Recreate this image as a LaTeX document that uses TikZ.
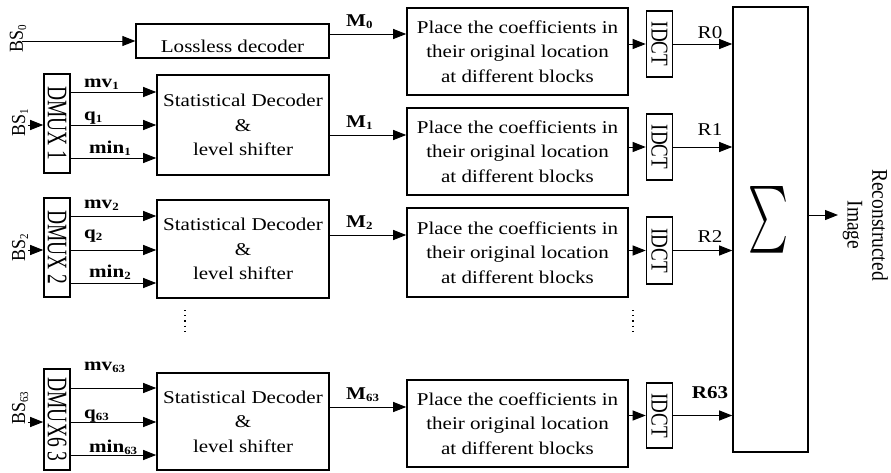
\documentclass[tikz,border=0pt]{standalone}
\usepackage{fontspec}
\usepackage{graphicx}
\setmainfont{Liberation Serif}[FakeStretch=1.17]
\newfontfamily\rotfont{Liberation Serif}
\usetikzlibrary{arrows.meta}

% lowered small index, e.g. BS_1, mv_1
\newcommand\lowsub[1]{\raisebox{-0.35ex}{\fontsize{11}{11}\selectfont #1}}
% upright-running text for vertical labels: size, widening factor, text
\newcommand\vtext[3]{{\rotfont\fontsize{#1}{#1}\selectfont\scalebox{1}[#2]{#3}}}

\tikzset{
  conn/.style={line width=1pt},
  arr/.style={conn, -{Triangle[length=13pt,width=10pt]}},
  box/.style={draw, line width=1.6pt, inner sep=0pt},
  body/.style={font=\fontsize{18}{24.5}\selectfont, align=center},
  lbl/.style={anchor=base west, inner sep=0pt, font=\fontsize{18}{18}\selectfont\bfseries},
  rlbl/.style={anchor=base, inner sep=0pt, font=\fontsize{18}{18}\selectfont},
  dots/.style={line width=1.2pt, dash pattern=on 1.2pt off 4pt},
}

\begin{document}
\begin{tikzpicture}[x=1pt, y=-1pt]
\useasboundingbox (0,0) rectangle (891,472);

% summing block
\node[box, minimum width=75pt, minimum height=445pt] (sum) at (770.5,229.5) {};
\node[inner sep=0pt] (sigma) at (768,220) {\resizebox{40pt}{50pt}{$\sum$}};
\coordinate (out) at (838,215);
\draw[arr] (sum.east |- out) -- (out);
\node[rotate=-90, inner sep=0pt] (recon) at (865,225)
  {\rotfont\fontsize{19.5}{21.5}\selectfont\scalebox{1}[1.15]{\begin{tabular}{@{}c@{}}Reconstructed\\Image\end{tabular}}};

% lossless branch
\node[box, line width=1.3pt, minimum width=193pt, minimum height=34pt,
      text height=24pt, font=\fontsize{18}{18}\selectfont] (lossless) at (232.5,41) {Lossless decoder};
\coordinate (bs0) at (22,41);
\draw[arr] (bs0) -- (lossless);
\node[rotate=90, anchor=base west, inner sep=0pt] at (23,53) {\vtext{18}{1.1}{BS\lowsub{0}}};

% demultiplexers and statistical decoders
\foreach \r/\dmx/\dt/\db/\ya/\yb/\yc/\st/\sb/\la/\lb/\lc/\bsb in {
  1/{DMUX 1}/74/173/92/125/158/75/175/87/120/153/137,
  2/{DMUX 2}/198/297/216/250/283/200/298/208/238/277/262,
  63/{DMUX6 3}/369/470/388/422/455/373/470/370/418/452/425}{
  \node[box, minimum width=26pt, minimum height={(\db-\dt)*1pt}] (dmux\r) at (57,{(\dt+\db)/2})
    {\rotatebox{-90}{\vtext{19.5}{1.45}{\dmx}}};
  \node[box, body, minimum width=172pt, minimum height={(\sb-\st)*1pt}] (stat\r) at (243,{(\st+\sb)/2})
    {Statistical Decoder\\\&\\level shifter};
  \coordinate (a\r) at (0,\ya);
  \coordinate (b\r) at (0,\yb);
  \coordinate (c\r) at (0,\yc);
  \draw[arr] (dmux\r.east |- a\r) -- (stat\r.west |- a\r);
  \draw[arr] (dmux\r.east |- b\r) -- (stat\r.west |- b\r);
  \draw[arr] (dmux\r.east |- c\r) -- (stat\r.west |- c\r);
  \node[lbl] at (84,\la) {mv\lowsub{\r}};
  \node[lbl] at (84,\lb) {q\lowsub{\r}};
  \node[lbl] at (89,\lc) {min\lowsub{\r}};
  \coordinate (bs\r) at (28,\yb);
  \draw[arr] (bs\r) -- (dmux\r.west |- bs\r);
  \node[rotate=90, anchor=base west, inner sep=0pt] at (25,\bsb) {\vtext{18}{1.1}{BS\lowsub{\r}}};
}

% coefficient placement and inverse DCT
\foreach \r/\pt/\pb/\it/\ib/\rb/\rlab in {
  0/8/95/11/77/38/{R0},
  1/108/195/114/180/135/{R1},
  2/208/297/217/284/242/{R2},
  63/380/467/383/448/398/{\textbf{R63}}}{
  \node[box, body, minimum width=221pt, minimum height={(\pb-\pt)*1pt}] (place\r) at (517.5,{(\pt+\pb)/2})
    {Place the coefficients in\\their original location\\at different blocks};
  \node[box, minimum width=26pt, minimum height={(\ib-\it)*1pt}] (idct\r) at (659.5,{(\it+\ib)/2})
    {\rotatebox{-90}{\vtext{19}{1.27}{IDCT}}};
  \draw[arr] (place\r.east |- idct\r) -- (idct\r);
  \draw[arr] (idct\r) -- (idct\r -| sum.west);
  \node[rlbl] at (710,\rb) {\rlab};
}

% decoder outputs M_i
\foreach \r/\src/\my in {0/lossless/34, 1/stat1/135, 2/stat2/235, 63/stat63/407}{
  \coordinate (m\r) at (0,\my);
  \draw[arr] (\src.east |- m\r) -- (place\r.west |- m\r);
  \node[lbl] at (346,{\my-8}) {M\lowsub{\r}};
}

% ellipsis between branch 2 and branch 63
\coordinate (d1) at (185,310); \coordinate (d2) at (185,332);
\coordinate (d3) at (633,310); \coordinate (d4) at (633,332);
\draw[dots] (d1) -- (d2);
\draw[dots] (d3) -- (d4);
\end{tikzpicture}
\end{document}
